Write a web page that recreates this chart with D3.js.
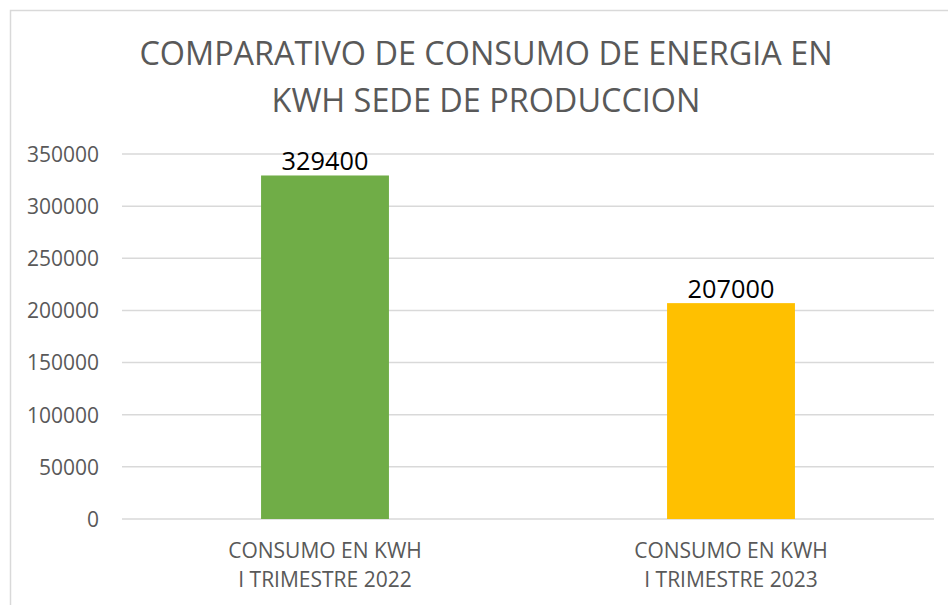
<!DOCTYPE html>
<html><head><meta charset="utf-8">
<script src="https://cdn.jsdelivr.net/npm/d3@7"></script>
<style>body{margin:0;background:#fff}svg{display:block}text{font-family:"Open Sans",sans-serif}</style>
</head><body>
<svg id="c" width="948" height="605"></svg>
<script>
const categories = [["CONSUMO EN KWH","I TRIMESTRE 2022"],["CONSUMO EN KWH","I TRIMESTRE 2023"]];
const values = [329400, 207000];
const colors = ["#70ad47", "#ffc000"];
const yTicks = [0,50000,100000,150000,200000,250000,300000,350000];
const titleLines = ["COMPARATIVO DE CONSUMO DE ENERGIA EN","KWH SEDE DE PRODUCCION"];

const svg = d3.select("#c");
svg.append("rect").attr("x",10.5).attr("y",10.5).attr("width",1000).attr("height",1000)
  .attr("fill","#fff").attr("stroke","#d9d9d9").attr("stroke-width",1.5);

const keys = categories.map(c=>c.join(" "));
const x = d3.scaleBand().domain(keys).range([122,934]).paddingInner(0.685).paddingOuter(0.3425);
const y = d3.scaleLinear().domain([0,350000]).range([519,154]);

// gridlines
svg.append("g").selectAll("line").data(yTicks).join("line")
  .attr("x1",122).attr("x2",934).attr("y1",d=>y(d)).attr("y2",d=>y(d))
  .attr("stroke","#d9d9d9").attr("stroke-width",1.5);

// y axis labels
const yAxis = d3.axisLeft(y).tickValues(yTicks).tickFormat(d3.format("d")).tickSize(0).tickPadding(0);
const gy = svg.append("g").attr("transform","translate(99,0)").call(yAxis);
gy.select(".domain").remove();
gy.selectAll("text").attr("fill","#595959").style("font-size","21px").style("font-family","'Open Sans',sans-serif").attr("dy","0.35em");

// bars
svg.append("g").selectAll("rect").data(values).join("rect")
  .attr("x",(d,i)=>x(keys[i])).attr("width",x.bandwidth())
  .attr("y",d=>y(d)).attr("height",d=>y(0)-y(d))
  .attr("fill",(d,i)=>colors[i]);

// data labels
svg.append("g").selectAll("text").data(values).join("text")
  .attr("x",(d,i)=>x(keys[i])+x.bandwidth()/2).attr("y",d=>y(d)-5)
  .attr("text-anchor","middle").attr("fill","#000").style("font-size","25.3px")
  .text(d=>d);

// x labels
const xg = svg.append("g");
categories.forEach((c,i)=>{
  const cx = x(keys[i])+x.bandwidth()/2;
  c.forEach((line,j)=>{
    xg.append("text").attr("x",cx).attr("y",558+j*29).attr("text-anchor","middle")
      .attr("fill","#595959").style("font-size","21px").text(line);
  });
});

// title
svg.append("g").selectAll("text").data(titleLines).join("text")
  .attr("x",486).attr("y",(d,i)=>65+i*47).attr("text-anchor","middle")
  .attr("fill","#595959").style("font-size","32.4px").text(d=>d);
</script>
</body></html>
